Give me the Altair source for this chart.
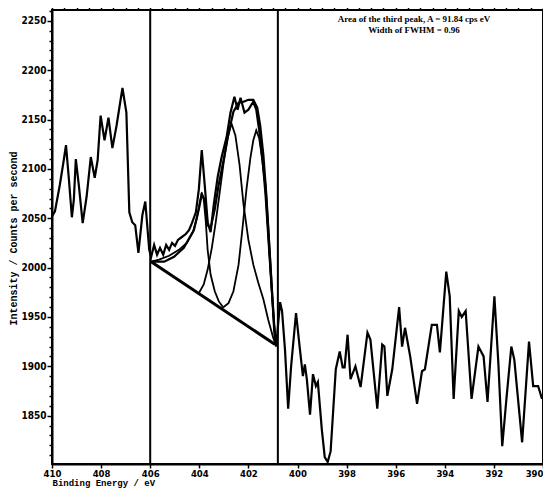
import altair as alt
import pandas as pd

# Raw XPS spectrum (binding energy in eV, counts per second)
raw_x = [410.00,409.88,409.68,409.52,409.43,409.31,409.19,409.11,409.03,408.91,
         408.75,408.59,408.42,408.26,408.14,408.02,407.86,407.70,407.54,407.37,
         407.25,407.13,406.97,406.85,406.73,406.61,406.48,406.32,406.20,406.04,
         405.96,405.84,405.72,405.60,405.47,405.35,405.23,405.11,404.99,404.87,
         404.71,404.55,404.42,404.30,404.14,404.02,403.90,403.78,403.66,403.54,
         403.41,403.25,403.09,402.89,402.73,402.57,402.44,402.32,402.16,402.00,
         401.80,401.68,401.56,401.43,401.31,401.19,401.07,400.95,400.87,400.71,
         400.63,400.51,400.38,400.26,400.06,399.90,399.78,399.70,399.62,399.49,
         399.37,399.25,399.17,399.01,398.89,398.77,398.65,398.44,398.28,398.16,
         398.08,397.96,397.84,397.64,397.43,397.15,397.03,396.75,396.55,396.46,
         396.34,396.14,395.86,395.74,395.62,395.41,395.13,394.93,394.81,394.53,
         394.32,394.20,393.94,393.80,393.64,393.43,393.31,393.15,392.91,392.63,
         392.42,392.26,391.98,391.82,391.66,391.49,391.29,391.17,390.85,390.57,
         390.40,390.20,390.04]
raw_y = [2052,2057,2084,2109,2124,2089,2051,2069,2110,2084,
         2045,2072,2112,2091,2109,2154,2129,2152,2121,2144,
         2163,2182,2157,2056,2046,2043,2015,2053,2067,2018,
         2011,2023,2013,2020,2013,2023,2018,2025,2022,2028,
         2031,2034,2038,2045,2056,2079,2119,2084,2046,2036,
         2064,2092,2112,2132,2157,2173,2160,2172,2157,2160,
         2168,2160,2139,2109,2084,2038,1988,1937,1920,1965,
         1956,1917,1857,1900,1954,1917,1890,1902,1887,1851,
         1892,1880,1884,1836,1808,1803,1814,1897,1915,1899,
         1899,1932,1887,1900,1879,1934,1927,1857,1922,1920,
         1870,1897,1960,1920,1939,1910,1862,1895,1897,1942,
         1942,1914,1996,1971,1867,1956,1950,1956,1867,1920,
         1910,1864,1971,1904,1819,1867,1920,1907,1823,1925,
         1880,1880,1867]

# Fitted components
c1_x = [405.96,405.64,405.23,404.83,404.51,404.26,404.10,403.98,403.90,403.82,403.74,403.66,403.54,403.37,403.21,403.01]
c1_y = [2006,2008,2012,2018,2025,2036,2050,2066,2076,2069,2048,2018,1993,1976,1966,1959]
c2_x = [404.02,403.82,403.66,403.49,403.33,403.17,403.01,402.85,402.69,402.53,402.36,402.20,402.00,401.80,401.60,401.39,401.19,400.99,400.87]
c2_y = [1974,1983,1998,2020,2046,2076,2106,2131,2146,2134,2104,2064,2028,2003,1985,1968,1947,1929,1921]
c3_x = [403.01,402.81,402.61,402.40,402.24,402.08,401.92,401.80,401.68,401.56,401.43,401.31,401.19,401.07,400.95,400.87]
c3_y = [1960,1964,1976,2003,2040,2079,2111,2129,2139,2131,2109,2074,2028,1983,1942,1922]
env_x = [405.96,405.43,405.03,404.63,404.22,404.02,403.90,403.78,403.66,403.54,403.37,403.21,403.01,
         402.81,402.61,402.40,402.20,402.00,401.80,401.64,401.52,401.39,401.27,401.15,401.03,400.91]
env_y = [2006,2006,2011,2020,2038,2059,2074,2069,2043,2040,2059,2084,2109,
         2136,2158,2167,2168,2170,2170,2162,2144,2114,2074,2023,1973,1927]
bg_x = [405.96, 400.91]
bg_y = [2006, 1922]

marker_x = [406.0, 400.8]

note_lines = ["Area of the third peak, A = 91.84 cps eV", "Width of  FWHM  = 0.96"]

x_major = list(range(390, 411, 2))
x_minor = [round(390 + 0.5 * i, 1) for i in range(41)]
y_ticks = list(range(1810, 2261, 10))

raw_df = pd.DataFrame({"x": raw_x, "y": raw_y})
fit_df = pd.concat([
    pd.DataFrame({"x": c1_x, "y": c1_y, "s": "c1"}),
    pd.DataFrame({"x": c2_x, "y": c2_y, "s": "c2"}),
    pd.DataFrame({"x": c3_x, "y": c3_y, "s": "c3"}),
])
env_df = pd.DataFrame({"x": env_x, "y": env_y})
bg_df = pd.DataFrame({"x": bg_x, "y": bg_y})
mk_df = pd.DataFrame({"x": marker_x})
note_df = pd.DataFrame({"t": note_lines, "i": [0, 1]})

xscale = alt.Scale(domain=[390, 410], reverse=True, nice=False, zero=False)
yscale = alt.Scale(domain=[1801, 2261], nice=False, zero=False)

label_font = "Liberation Sans Narrow, DejaVu Sans Condensed, Arial Narrow, sans-serif"
title_font = "Liberation Mono, DejaVu Sans Mono, monospace"

x_axis = alt.Axis(
    values=x_major, format="d", labelOverlap=False, labelFlush=False,
    labelAlign={"condition": {"test": "datum.value === 390", "value": "right"}, "value": "center"},
    tickSize=4, title="Binding Energy / eV", titleX=0, titleY=18,
    titleAlign="left", titleBaseline="middle", titleFont=title_font,
    titleFontSize=9, titleFontWeight="bold", labelFont=label_font,
    labelFontSize=9.5, labelFontWeight="bold", labelPadding=0, grid=False,
)
x_axis_minor = alt.Axis(
    values=x_minor, labels=False, tickSize=2.5, domain=False, title=None,
    grid=False,
)
y_axis = alt.Axis(
    values=y_ticks,
    labelExpr="(datum.value % 50 === 0) ? format(datum.value, 'd') : ''",
    labelOverlap=False, labelFlush=False,
    tickSize={"condition": {"test": "datum.value % 50 === 0", "value": 5}, "value": 3},
    title="Intensity / Counts per second", titleX=-39, titleY=228,
    titleAlign="center", titleBaseline="middle", titleAngle=270,
    titleFont=title_font, titleFontSize=10, titleFontWeight="bold",
    labelFont=label_font, labelFontSize=10, labelFontWeight="bold",
    labelPadding=1, grid=False,
)

raw = alt.Chart(raw_df).mark_line(color="black", strokeWidth=2.2).encode(
    x=alt.X("x:Q", scale=xscale, axis=x_axis),
    y=alt.Y("y:Q", scale=yscale, axis=y_axis),
)
minor = alt.Chart(raw_df).mark_line(opacity=0).encode(
    x=alt.X("x:Q", scale=xscale, axis=x_axis_minor),
    y=alt.Y("y:Q", scale=yscale, axis=None),
)
fits = alt.Chart(fit_df).mark_line(color="black", strokeWidth=1.8).encode(
    x=alt.X("x:Q", scale=xscale, axis=None),
    y=alt.Y("y:Q", scale=yscale, axis=None),
    detail="s:N",
)
env = alt.Chart(env_df).mark_line(color="black", strokeWidth=2.2).encode(
    x=alt.X("x:Q", scale=xscale, axis=None),
    y=alt.Y("y:Q", scale=yscale, axis=None),
)
bg = alt.Chart(bg_df).mark_line(color="black", strokeWidth=3).encode(
    x=alt.X("x:Q", scale=xscale, axis=None),
    y=alt.Y("y:Q", scale=yscale, axis=None),
)
markers = alt.Chart(mk_df).mark_rule(color="black", strokeWidth=2).encode(
    x=alt.X("x:Q", scale=xscale, axis=None),
)
notes = alt.Chart(note_df).mark_text(
    font="Liberation Serif, Times New Roman, serif", fontSize=9,
    fontWeight="bold", color="black", align="center", baseline="middle",
).encode(
    x=alt.value(362),
    y=alt.Y("i:Q", scale=alt.Scale(domain=[0, 1], range=[9, 20]), axis=None),
    text="t:N",
)

chart = alt.layer(raw, minor, fits, env, bg, markers, notes).resolve_axis(
    x="independent"
).resolve_scale(y="independent").properties(
    width=491, height=454,
    padding={"left": 44, "top": 2, "right": 0, "bottom": 25},
    autosize=alt.AutoSizeParams(type="none"),
).configure_view(stroke="black", strokeWidth=2).configure_axis(
    domainColor="black", domainWidth=2, tickColor="black", tickWidth=1.5,
    labelColor="black", titleColor="black",
)

chart.save("out.html", embed_options={"renderer": "svg", "actions": False})
